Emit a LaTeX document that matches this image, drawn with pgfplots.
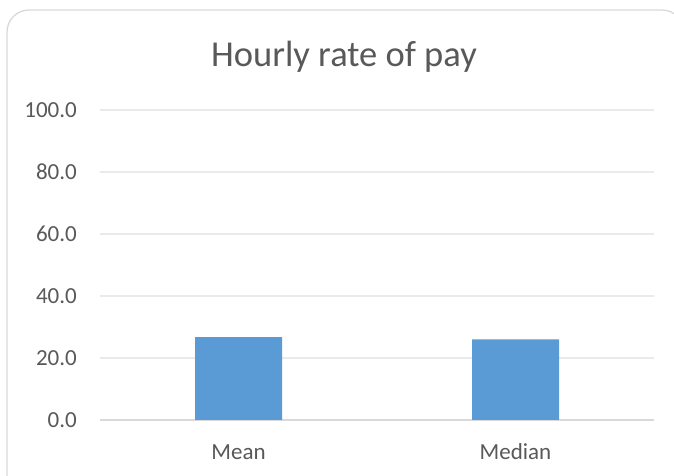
\documentclass[border=0pt]{standalone}
\usepackage{pgfplots}
\pgfplotsset{compat=1.18}
\usepackage{fontspec}
\setmainfont{Carlito}
\definecolor{barblue}{HTML}{5B9BD5}
\definecolor{txt}{HTML}{595959}
\definecolor{gridc}{HTML}{EAEAEA}
\definecolor{axc}{HTML}{D9D9D9}
\begin{document}
\begin{tikzpicture}
\useasboundingbox (0,0) rectangle (674pt,476pt);
\clip (0,0) rectangle (674pt,476pt);
\fill[white] (0,0) rectangle (674pt,476pt);
\draw[axc, line width=1.3pt, rounded corners=22pt] (7pt,-30pt) rectangle (684pt,466pt);
\node[anchor=base, text=txt, font=\fontsize{36.5}{40}\selectfont, inner sep=0pt] at (344pt,409pt) {Hourly rate of pay};
\begin{axis}[
  at={(100pt,56pt)}, anchor=south west,
  scale only axis, width=554pt, height=310pt,
  xmin=-0.5, xmax=1.5, ymin=0, ymax=100,
  ytick={0,20,40,60,80,100},
  xtick={0,1}, xticklabels={Mean,Median},
  axis lines*=left,
  y axis line style={draw=none},
  x axis line style={draw=axc, line width=1.3pt, -},
  major tick length=0pt,
  ymajorgrids, grid style={gridc, line width=1.3pt},
  tick label style={text=txt, font=\fontsize{23}{27}\selectfont, inner sep=0pt},
  /pgf/number format/assume math mode=true,
  yticklabel={\pgfmathprintnumber[fixed, fixed zerofill, precision=1]{\tick}},
  yticklabel style={anchor=east, xshift=-23pt},
  xticklabel style={anchor=base, yshift=-39pt},
  ybar, bar width=87pt,
  clip=false,
]
\addplot[fill=barblue, draw=none] coordinates {(0,26.7) (1,26.0)};
\end{axis}
\end{tikzpicture}
\end{document}
